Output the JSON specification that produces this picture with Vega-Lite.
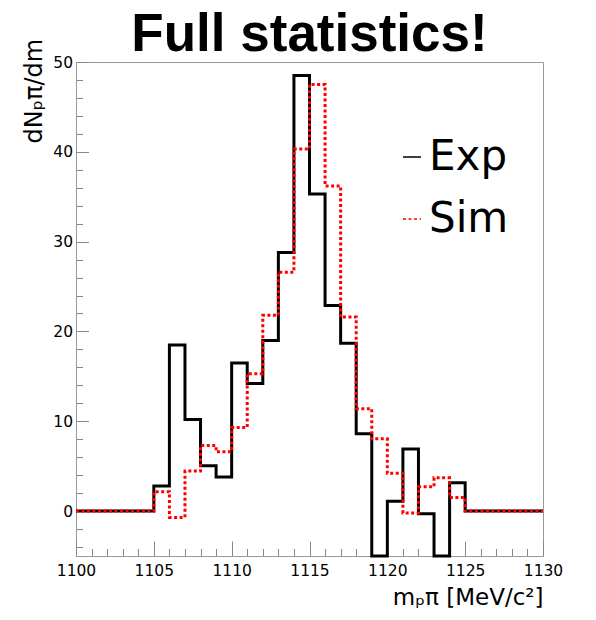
{
  "$schema": "https://vega.github.io/schema/vega-lite/v6.json",
  "width": 467,
  "height": 494,
  "autosize": {"type": "none"},
  "padding": {"left": 76, "top": 62, "right": 53, "bottom": 64},
  "background": "white",
  "title": {"text": "Full statistics!", "font": "Liberation Sans", "fontSize": 53, "fontWeight": "bold", "color": "black", "anchor": "middle", "baseline": "alphabetic", "offset": -66, "frame": "group"},
  "config": {
    "view": {"stroke": "#999999", "strokeWidth": 1},
    "axis": {"domain": false, "grid": false, "tickColor": "#888888", "tickWidth": 1, "labelFont": "DejaVu Sans", "labelFontSize": 15.5, "labelColor": "black", "titleColor": "black", "titleFont": "DejaVu Sans", "titleFontWeight": "normal"},
    "legend": {"orient": "none", "legendX": 315, "legendY": 74, "title": null, "labelFont": "DejaVu Sans", "labelFontSize": 42, "labelColor": "black", "symbolType": "stroke", "symbolSize": 324, "symbolStrokeWidth": 1.5, "labelOffset": -4, "rowPadding": 20, "padding": 0, "offset": 0}
  },
  "data": {"values": [
    {"m": 1100, "Exp": 0, "Sim": 0},
    {"m": 1101, "Exp": 0, "Sim": 0},
    {"m": 1102, "Exp": 0, "Sim": 0},
    {"m": 1103, "Exp": 0, "Sim": 0},
    {"m": 1104, "Exp": 0, "Sim": 0},
    {"m": 1105, "Exp": 2.8, "Sim": 2.15},
    {"m": 1106, "Exp": 18.5, "Sim": -0.7},
    {"m": 1107, "Exp": 10.2, "Sim": 4.45},
    {"m": 1108, "Exp": 5.05, "Sim": 7.3},
    {"m": 1109, "Exp": 3.8, "Sim": 6.6},
    {"m": 1110, "Exp": 16.5, "Sim": 9.3},
    {"m": 1111, "Exp": 14.2, "Sim": 15.3},
    {"m": 1112, "Exp": 19.0, "Sim": 21.8},
    {"m": 1113, "Exp": 28.8, "Sim": 26.6},
    {"m": 1114, "Exp": 48.5, "Sim": 40.3},
    {"m": 1115, "Exp": 35.3, "Sim": 47.5},
    {"m": 1116, "Exp": 22.9, "Sim": 36.2},
    {"m": 1117, "Exp": 18.7, "Sim": 21.6},
    {"m": 1118, "Exp": 8.6, "Sim": 11.4},
    {"m": 1119, "Exp": -5, "Sim": 8.05},
    {"m": 1120, "Exp": 1.1, "Sim": 4.2},
    {"m": 1121, "Exp": 6.9, "Sim": -0.2},
    {"m": 1122, "Exp": -0.3, "Sim": 2.7},
    {"m": 1123, "Exp": -5, "Sim": 3.7},
    {"m": 1124, "Exp": 3.15, "Sim": 1.5},
    {"m": 1125, "Exp": 0, "Sim": 0},
    {"m": 1126, "Exp": 0, "Sim": 0},
    {"m": 1127, "Exp": 0, "Sim": 0},
    {"m": 1128, "Exp": 0, "Sim": 0},
    {"m": 1129, "Exp": 0, "Sim": 0},
    {"m": 1130, "Exp": 0, "Sim": 0}
  ]},
  "resolve": {"axis": {"x": "independent", "y": "independent"}},
  "layer": [
    {
      "mark": {"type": "line", "interpolate": "step-after", "strokeWidth": 3, "strokeCap": "butt", "strokeJoin": "miter"},
      "encoding": {
        "x": {"field": "m", "type": "quantitative", "scale": {"domain": [1100, 1130], "nice": false, "zero": false},
          "axis": {"orient": "bottom", "values": [1100, 1105, 1110, 1115, 1120, 1125, 1130], "format": "d", "tickSize": -15, "labelPadding": 22, "labelFlush": false, "labelOverlap": false,
            "title": "mₚπ [MeV/c²]", "titleFontSize": 23, "titleX": 467, "titleY": 48, "titleAlign": "right", "titleBaseline": "alphabetic", "titleAnchor": "end"}},
        "y": {"field": "Exp", "type": "quantitative", "scale": {"domain": [-5, 50], "nice": false, "zero": false},
          "axis": {"orient": "left", "values": [0, 10, 20, 30, 40, 50], "format": "d", "tickSize": -12.5, "labelPadding": 16, "labelFlush": false, "labelOverlap": false,
            "title": "dNₚπ/dm", "titleFontSize": 24, "titleAngle": -90, "titleX": -35, "titleY": 81, "titleAlign": "left", "titleBaseline": "alphabetic"}},
        "color": {"datum": "Exp", "scale": {"domain": ["Exp", "Sim"], "range": ["black", "#ff0000"]}},
        "strokeDash": {"datum": "Exp", "scale": {"domain": ["Exp", "Sim"], "range": [[1, 0], [3, 2.5]]}}
      }
    },
    {
      "mark": {"type": "line", "interpolate": "step-after", "strokeWidth": 3, "strokeCap": "butt", "strokeJoin": "miter"},
      "encoding": {
        "x": {"field": "m", "type": "quantitative",
          "axis": {"orient": "bottom", "values": [1101, 1102, 1103, 1104, 1106, 1107, 1108, 1109, 1111, 1112, 1113, 1114, 1116, 1117, 1118, 1119, 1121, 1122, 1123, 1124, 1126, 1127, 1128, 1129], "tickSize": -7.5, "labels": false, "title": null}},
        "y": {"field": "Sim", "type": "quantitative",
          "axis": {"orient": "left", "values": [-4, -2, 2, 4, 6, 8, 12, 14, 16, 18, 22, 24, 26, 28, 32, 34, 36, 38, 42, 44, 46, 48], "tickSize": -6.5, "labels": false, "title": null}},
        "color": {"datum": "Sim"},
        "strokeDash": {"datum": "Sim"}
      }
    }
  ]
}
